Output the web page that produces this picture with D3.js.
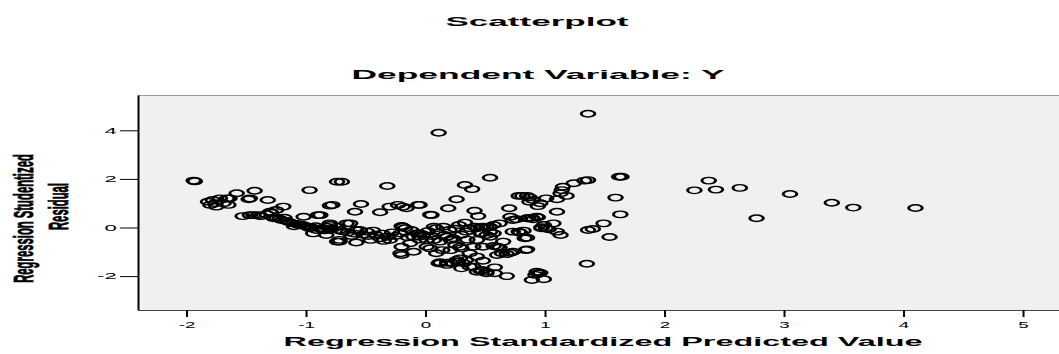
<!DOCTYPE html>
<html>
<head>
<meta charset="utf-8">
<script src="https://cdn.jsdelivr.net/npm/d3@7"></script>
<style>
  body { margin: 0; background: #fff; }
  svg { display: block; font-family: "Liberation Sans", Arial, sans-serif; }
</style>
</head>
<body>
<div id="chart"></div>
<script>
// tick labels
const xTicks = [-2, -1, 0, 1, 2, 3, 4, 5];
const yTicks = [-2, 0, 2, 4];

// regression standardized predicted value (x) / studentized residual (y)
const predicted = [
  2.25, 2.37, 2.43, 2.63, 2.77, 3.05, 3.40, 3.58, 4.10,
  0.11, 1.36, 1.62, 1.64, 1.59, 1.63, 1.49, 1.54, 1.36, 1.40,
  1.35, 1.36, 1.33, 1.24, 1.15, 1.14, 1.18, 1.13, 1.01, 0.96,
  0.94, 0.90, 0.85, 0.87, 0.78, 0.81, 0.87, 1.10, 1.10, 1.07,
  1.10, 1.13, 1.01, 0.97, 1.03, 0.99, 0.93, 0.89, 0.85, 0.76,
  0.71, 0.73, 0.70, 0.62, 0.57, 0.54, 0.51, 0.73, 0.79, 0.83,
  0.85, 0.60, 0.62, 0.57, 0.64, 0.71, 0.68, 0.60, 0.73, 0.84,
  0.93, 0.94, 0.99, 0.89, 0.92, 0.96, 0.68, 0.58, 0.51, 0.47,
  0.43, 0.48, 0.37, 0.32, 0.27, 0.23, 0.18, 0.12, 0.34, 0.29,
  0.58, 0.51, 0.30, 0.46, 0.40, 0.26, 0.18, 0.12, 0.37, 0.43,
  0.54, 0.33, 0.39, 0.26, 0.19, 0.41, 0.44, 0.05, -0.05, -0.19,
  0.33, 0.41, 0.48, 0.34, 0.15, 0.09, 0.18, 0.23, -0.05, 0.01,
  -0.13, -0.21, -0.19, -0.21, 0.07, 0.12, 0.29, 0.21, 0.51, 0.46,
  0.57, 0.65, 0.46, 0.54, 0.47, 0.40, 0.48, 0.43, 0.54, 0.37,
  0.43, 0.14, 0.09, 0.30, 0.25, 0.21, 0.16, 0.04, 0.01, -0.05,
  -0.10, -0.20, -0.20, -0.17, -0.20, 0.82, 0.78, 0.86, 0.90, 0.94,
  0.85, 0.97, 0.11, -0.10, -0.07, 0.07,
  -0.70, -0.32, -0.78, -0.54, -0.59, -0.38, -0.30, -0.23, -0.16, -0.06,
  0.04, -0.80, -0.63, -0.72, -0.58, -0.49, -0.44, -0.80, -0.72, -0.58,
  -0.46, -0.38, -0.32, -0.30, -0.83, -0.66, -0.55, -0.94, -0.83, -0.72,
  -0.88, -0.97, -0.74, -0.80, -0.90, -1.02, -0.74,
  -1.94, -1.93, -1.80, -1.78, -1.75, -1.72, -1.69, -1.66, -1.65, -1.82,
  -1.76, -1.58, -1.47, -1.43, -1.32, -1.48, -1.64, -1.53, -1.47, -1.40,
  -1.33, -1.30, -1.25, -1.19, -1.29, -1.38, -1.44, -1.27, -1.22, -1.16,
  -1.11, -1.06, -1.02, -0.97, -0.91, -0.86, -0.80, -0.74,
  -1.25, -1.20, -1.14, -1.08, -1.04, -1.00, -0.95, -0.92, -0.88, -0.85,
  -0.78, -0.70, -0.65, -0.60, -0.52, -0.48, -0.42, -0.36, -0.28, -0.25,
  -0.15, -0.12, -0.02, 0.02, 0.10, 0.20, 0.25, 0.28, -1.10, -1.18,
  -0.62, -0.35, -0.05, 0.05, 0.30, 0.35
];
const residual = [
  1.53, 1.93, 1.56, 1.63, 0.38, 1.38, 1.02, 0.82, 0.80,
  3.90, 4.68, 2.09, 2.09, 1.23, 0.54, 0.17, -0.39, -0.10, -0.06,
  -1.49, 1.95, 1.93, 1.82, 1.68, 1.54, 1.30, 1.41, 1.20, 1.00,
  0.88, 1.13, 1.30, 1.24, 1.30, 1.30, 1.06, 1.16, 0.65, 0.17,
  -0.17, -0.31, -0.03, 0.01, -0.07, 0.10, 0.44, 0.40, 0.38, 0.34,
  0.44, 0.31, 0.79, 0.17, 0.10, 0.03, 0.01, -0.17, -0.21, -0.44,
  -0.90, -0.79, -0.82, -0.76, -1.06, -1.04, -1.09, -1.13, -1.00, -0.93,
  -1.82, -1.88, -2.13, -2.16, -1.95, -1.86, -2.00, -1.88, -1.82, -1.75,
  -1.82, -1.37, -1.61, -1.47, -1.41, -1.47, -1.45, -1.43, -1.34, -1.27,
  -1.64, -1.88, -1.68, -1.78, -1.61, -1.34, -1.54, -1.47, -1.06, -1.20,
  2.05, 1.75, 1.58, 1.16, 0.79, 0.69, 0.47, 0.51, 0.93, 0.86,
  0.20, 0.03, 0.03, -0.17, 0.03, -0.03, -0.38, -0.44, -0.38, -0.79,
  -0.65, -1.06, 0.03, -0.24, -0.51, -0.58, -0.79, -0.93, -0.31, -0.24,
  -0.24, -0.58, 0.01, -0.17, -0.24, -0.79, -0.79, -0.51, -0.38, -0.03,
  -0.03, -0.93, -1.06, -0.86, -0.72, -0.51, -0.31, -0.86, -0.51, -0.24,
  -0.38, -0.79, -1.13, -0.03, 0.06, -0.13, -0.17, 0.38, 0.34, 0.42,
  -0.42, -0.03, -1.47, -1.00, -0.24, 0.03,
  1.88, 1.71, 0.93, 0.97, 0.65, 0.63, 0.86, 0.93, 0.79, 0.93,
  0.53, 0.17, 0.17, -0.10, -0.10, -0.17, -0.13, -0.10, -0.51, -0.62,
  -0.51, -0.44, -0.38, -0.51, 0.03, 0.17, -0.10, -0.24, -0.31, -0.58,
  0.51, 1.54, 1.88, 0.90, 0.51, 0.44, -0.58,
  1.93, 1.90, 0.93, 1.13, 0.86, 1.20, 1.00, 1.20, 0.93, 1.06,
  1.00, 1.41, 1.20, 1.51, 1.13, 1.16, 1.20, 0.47, 0.51, 0.51,
  0.54, 0.65, 0.72, 0.86, 0.61, 0.47, 0.51, 0.38, 0.35, 0.27,
  0.17, 0.10, 0.07, -0.03, -0.10, -0.03, 0.10, 0.03,
  0.40, 0.30, 0.22, 0.15, 0.12, 0.05, 0.00, 0.05, -0.05, -0.12,
  -0.05, -0.15, -0.20, -0.25, -0.30, -0.35, -0.30, -0.25, -0.20, -0.35,
  -0.40, -0.10, -0.30, -0.15, -0.20, -0.10, -0.05, 0.10, 0.05, 0.40,
  -0.35, -0.55, -0.50, -0.35, -0.30, -0.50
];

const w = 1059, h = 354;
// the original chart looks stretched sideways, markers and text too
const stretch = 2.1;
const plot = { left: 138, right: 1059, top: 95, bottom: 310 };

const svg = d3.select("#chart")
    .append("svg")
    .attr("width", w)
    .attr("height", h);

const xScale = d3.scaleLinear()
    .domain([-2.406, 5.301])
    .range([plot.left, plot.right]);
const yScale = d3.scaleLinear()
    .domain([-3.395, 5.453])
    .range([plot.bottom, plot.top]);

// plot background
svg.append("rect")
    .attr("x", plot.left)
    .attr("y", plot.top)
    .attr("width", plot.right - plot.left)
    .attr("height", plot.bottom - plot.top)
    .attr("fill", "#f0f0f0");
svg.append("line")
    .attr("x1", plot.left).attr("x2", plot.right)
    .attr("y1", plot.top + 0.5).attr("y2", plot.top + 0.5)
    .attr("stroke", "#9a9a9a");

// points (open circles squashed into ellipses)
svg.append("g")
    .selectAll("circle")
    .data(d3.range(predicted.length))
    .join("circle")
    .attr("transform", i => `translate(${xScale(predicted[i])},${yScale(residual[i])}) scale(${stretch},1)`)
    .attr("r", 3.25)
    .attr("fill", "none")
    .attr("stroke", "#000")
    .attr("stroke-width", 1.4);

// x axis
const gx = svg.append("g")
    .attr("transform", `translate(0,${plot.bottom})`)
    .call(d3.axisBottom(xScale)
        .tickValues(xTicks)
        .tickSize(7)
        .tickSizeOuter(0)
        .tickFormat(d => String(d)));
gx.attr("font-family", null);
gx.select(".domain").attr("stroke", "#444");
gx.selectAll(".tick line").attr("stroke", "#000").attr("stroke-width", 2);
gx.selectAll(".tick text")
    .attr("y", 18.5)
    .attr("dy", null)
    .attr("font-size", 8.5)
    .attr("fill", "#000")
    .attr("transform", "scale(2.2,1)");

// y axis
const gy = svg.append("g")
    .attr("transform", `translate(${plot.left},0)`)
    .call(d3.axisLeft(yScale)
        .tickValues(yTicks)
        .tickSize(18)
        .tickSizeOuter(0)
        .tickFormat(d => String(d)));
gy.attr("font-family", null);
gy.select(".domain").attr("stroke", "#000").attr("stroke-width", 2);
gy.selectAll(".tick line").attr("stroke", "#000");
gy.selectAll(".tick text")
    .attr("x", -8.2)
    .attr("font-size", 8.5)
    .attr("fill", "#000")
    .attr("transform", "scale(2.6,1)");

// titles
function wideText(txt, cx, baseline, size, width) {
    svg.append("text")
        .attr("x", cx)
        .attr("y", baseline)
        .attr("text-anchor", "middle")
        .attr("font-weight", "bold")
        .attr("font-size", size)
        .attr("textLength", width)
        .attr("lengthAdjust", "spacingAndGlyphs")
        .text(txt);
}
wideText("Scatterplot", 537, 26, 13, 183);
wideText("Dependent Variable: Y", 538, 79, 13, 373);
wideText("Regression Standardized Predicted Value", 603, 346, 13, 639);

// y label, two lines, rotated then widened
[["Regression Studentized", 33, 218.5], ["Residual", 68, 206.5]].forEach(([txt, bx, cy]) => {
    svg.append("text")
        .attr("transform", `translate(${bx},${cy}) scale(2.5,1) rotate(-90)`)
        .attr("text-anchor", "middle")
        .attr("font-weight", "bold")
        .attr("font-size", 11.3)
        .attr("stroke", "#000")
        .attr("stroke-width", 0.35)
        .text(txt);
});
</script>
</body>
</html>
